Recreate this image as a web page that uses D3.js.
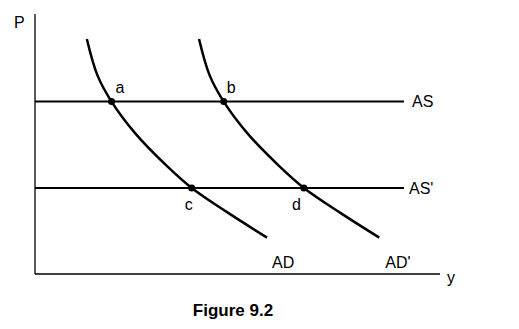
<!DOCTYPE html>
<html>
<head>
<meta charset="utf-8">
<script src="https://cdn.jsdelivr.net/npm/d3@7"></script>
<style>
  body { margin: 0; background: #fff; }
  text { font-family: "Liberation Sans", Arial, sans-serif; fill: #000; }
</style>
</head>
<body>
<div id="chart"></div>
<script>
// AD curve (output, price level)
const adX = [1.28, 1.54, 1.89, 2.47, 3.28, 3.87, 4.77, 5.73];
const adP = [9.04, 7.65, 6.63, 5.42, 4.12, 3.31, 2.35, 1.40];
// AD' curve, shifted right
const ad2X = [4.05, 4.31, 4.66, 5.24, 6.05, 6.64, 7.54, 8.50];
const ad2P = [9.04, 7.65, 6.63, 5.42, 4.12, 3.31, 2.35, 1.40];
// AS levels and their right end
const asLevels = [6.63, 3.31];
const asLabels = ["AS", "AS'"];
const asEnd = 9.11;
// equilibrium points
const ptNames = ["a", "b", "c", "d"];
const ptX = [1.89, 4.66, 3.87, 6.64];
const ptP = [6.63, 6.63, 3.31, 3.31];

const W = 519, H = 329;
const svg = d3.select("#chart").append("svg").attr("width", W).attr("height", H);

const x = d3.scaleLinear().domain([0, 10]).range([35, 440]);
const y = d3.scaleLinear().domain([0, 10]).range([274, 14]);

// axes
svg.append("line").attr("x1", x(0)).attr("x2", x(0)).attr("y1", y(10)).attr("y2", y(0))
  .attr("stroke", "#000").attr("stroke-width", 1.3);
svg.append("line").attr("x1", x(0)).attr("x2", x(10)).attr("y1", y(0)).attr("y2", y(0))
  .attr("stroke", "#000").attr("stroke-width", 1.3);
svg.append("text").attr("x", x(0) - 21).attr("y", y(10) + 14).attr("font-size", 16).text("P");
svg.append("text").attr("x", x(10) + 7).attr("y", y(0) + 9).attr("font-size", 16).text("y");

// AS lines
asLevels.forEach((p, i) => {
  svg.append("line").attr("x1", x(0)).attr("x2", x(asEnd)).attr("y1", y(p)).attr("y2", y(p))
    .attr("stroke", "#000").attr("stroke-width", 2);
  svg.append("text").attr("x", x(asEnd) + (i ? 5 : 8)).attr("y", y(p)).attr("dy", "0.35em")
    .attr("font-size", 16).text(asLabels[i]);
});

// AD curves
const line = d3.line().x(d => x(d[0])).y(d => y(d[1])).curve(d3.curveCatmullRom.alpha(0.5));
[[adX, adP], [ad2X, ad2P]].forEach(([xs, ps]) => {
  svg.append("path").datum(d3.zip(xs, ps)).attr("d", line)
    .attr("fill", "none").attr("stroke", "#000").attr("stroke-width", 2.5);
});
svg.append("text").attr("x", x(adX[7]) + 5).attr("y", y(0) - 6).attr("font-size", 16).text("AD");
svg.append("text").attr("x", x(ad2X[7]) + 6).attr("y", y(0) - 6).attr("font-size", 16).text("AD'");

// points and letters
const off = [[4, -9], [3, -9], [-7, 22], [-12, 22]];
ptNames.forEach((n, i) => {
  svg.append("circle").attr("cx", x(ptX[i])).attr("cy", y(ptP[i])).attr("r", 3.5).attr("fill", "#000");
  svg.append("text").attr("x", x(ptX[i]) + off[i][0]).attr("y", y(ptP[i]) + off[i][1])
    .attr("font-size", 16).text(n);
});

svg.append("text").attr("x", 233).attr("y", 316).attr("text-anchor", "middle")
  .attr("font-size", 17).attr("font-weight", "bold").text("Figure 9.2");
</script>
</body>
</html>
